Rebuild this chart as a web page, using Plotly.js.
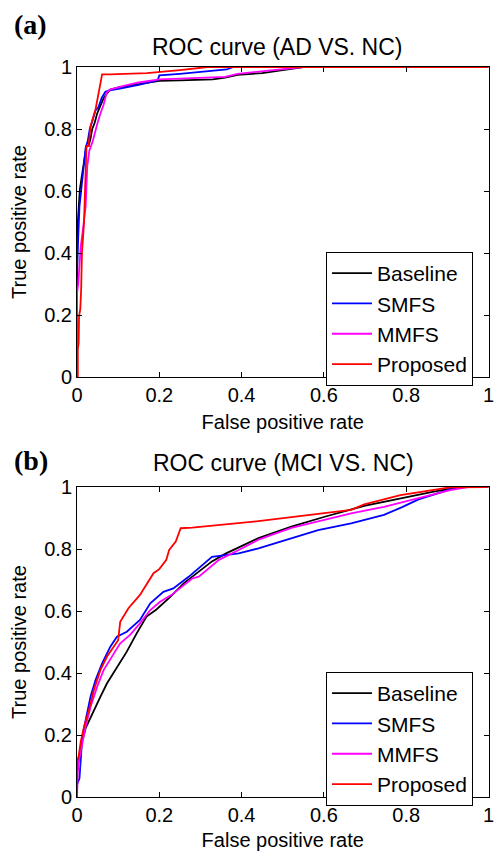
<!DOCTYPE html>
<html>
<head>
<meta charset="utf-8">
<script src="https://cdn.plot.ly/plotly-3.0.1.min.js"></script>
<style>
html,body{margin:0;padding:0;background:#fff;}
#chart{width:495px;height:851px;}
</style>
</head>
<body>
<div id="chart"></div>
<script>
// ---- Panel (a): ROC curve (AD VS. NC) ----
const adBaseX = [0, 0, 0.002, 0.005, 0.007, 0.012, 0.018, 0.023, 0.028, 0.033, 0.037, 0.043, 0.049, 0.057, 0.065, 0.073, 0.081, 0.104, 0.15, 0.2, 0.25, 0.3, 0.33, 0.36, 0.39, 0.45, 0.5, 0.55, 1];
const adBaseY = [0, 0.45, 0.5, 0.56, 0.605, 0.65, 0.7, 0.745, 0.745, 0.77, 0.8, 0.82, 0.85, 0.875, 0.9, 0.915, 0.927, 0.935, 0.945, 0.955, 0.957, 0.958, 0.96, 0.966, 0.975, 0.98, 0.99, 1, 1];

const adSmfsX = [0, 0, 0.003, 0.006, 0.01, 0.015, 0.021, 0.026, 0.031, 0.036, 0.041, 0.045, 0.052, 0.06, 0.069, 0.08, 0.104, 0.116, 0.15, 0.196, 0.2, 0.25, 0.3, 0.364, 0.38, 1];
const adSmfsY = [0, 0.33, 0.45, 0.55, 0.6, 0.66, 0.74, 0.76, 0.8, 0.82, 0.84, 0.86, 0.87, 0.9, 0.92, 0.925, 0.93, 0.933, 0.942, 0.957, 0.973, 0.978, 0.984, 0.992, 1, 1];

const adMmfsX = [0, 0, 0.003, 0.006, 0.009, 0.013, 0.017, 0.021, 0.025, 0.03, 0.038, 0.045, 0.05, 0.057, 0.065, 0.072, 0.08, 0.116, 0.15, 0.2, 0.25, 0.3, 0.36, 0.39, 0.473, 0.55, 1];
const adMmfsY = [0, 0.27, 0.3, 0.36, 0.42, 0.46, 0.5, 0.55, 0.68, 0.73, 0.76, 0.8, 0.82, 0.85, 0.88, 0.917, 0.927, 0.94, 0.95, 0.96, 0.962, 0.965, 0.968, 0.978, 0.99, 1, 1];

const adPropX = [0, 0.002, 0.002, 0.004, 0.005, 0.008, 0.01, 0.012, 0.017, 0.02, 0.023, 0.028, 0.033, 0.045, 0.061, 0.08, 0.116, 0.17, 0.25, 0.317, 1];
const adPropY = [0, 0, 0.09, 0.11, 0.196, 0.22, 0.28, 0.4, 0.497, 0.6, 0.745, 0.745, 0.81, 0.863, 0.976, 0.976, 0.978, 0.98, 0.99, 1, 1];

// ---- Panel (b): ROC curve (MCI VS. NC) ----
const mciBaseX = [0, 0, 0.004, 0.009, 0.021, 0.037, 0.057, 0.073, 0.097, 0.121, 0.145, 0.169, 0.193, 0.226, 0.26, 0.296, 0.328, 0.361, 0.401, 0.441, 0.521, 0.602, 0.698, 0.786, 0.867, 0.931, 1];
const mciBaseY = [0, 0.1, 0.12, 0.162, 0.222, 0.27, 0.324, 0.367, 0.42, 0.469, 0.528, 0.582, 0.605, 0.645, 0.69, 0.728, 0.76, 0.785, 0.81, 0.835, 0.872, 0.904, 0.939, 0.964, 0.985, 1, 1];

const mciSmfsX = [0, 0, 0.006, 0.009, 0.013, 0.021, 0.033, 0.045, 0.061, 0.081, 0.097, 0.121, 0.153, 0.178, 0.21, 0.234, 0.272, 0.328, 0.393, 0.441, 0.521, 0.586, 0.666, 0.746, 0.79, 0.83, 0.89, 0.923, 1];
const mciSmfsY = [0, 0.04, 0.06, 0.13, 0.195, 0.248, 0.324, 0.377, 0.431, 0.485, 0.517, 0.533, 0.571, 0.625, 0.662, 0.673, 0.711, 0.775, 0.786, 0.802, 0.835, 0.861, 0.883, 0.91, 0.935, 0.96, 0.985, 1, 1];

const mciMmfsX = [0, 0.002, 0.005, 0.013, 0.021, 0.033, 0.049, 0.065, 0.085, 0.105, 0.129, 0.153, 0.178, 0.202, 0.23, 0.28, 0.296, 0.345, 0.393, 0.441, 0.521, 0.586, 0.666, 0.746, 0.827, 0.907, 0.95, 1];
const mciMmfsY = [0, 0.08, 0.12, 0.178, 0.227, 0.291, 0.356, 0.41, 0.453, 0.496, 0.523, 0.56, 0.603, 0.63, 0.652, 0.705, 0.711, 0.765, 0.797, 0.83, 0.868, 0.888, 0.915, 0.936, 0.964, 0.99, 1, 1];

const mciPropX = [0, 0, 0.004, 0.009, 0.017, 0.029, 0.041, 0.057, 0.073, 0.093, 0.1, 0.105, 0.125, 0.153, 0.186, 0.2, 0.217, 0.224, 0.24, 0.252, 0.28, 0.441, 0.561, 0.626, 0.666, 0.698, 0.786, 0.907, 1];
const mciPropY = [0, 0.12, 0.13, 0.178, 0.227, 0.28, 0.345, 0.41, 0.453, 0.49, 0.506, 0.565, 0.609, 0.652, 0.722, 0.735, 0.765, 0.797, 0.824, 0.867, 0.869, 0.89, 0.91, 0.92, 0.926, 0.944, 0.974, 0.999, 1];

const seriesNames = ["Baseline", "SMFS", "MMFS", "Proposed"];
const seriesColors = ["#000000", "#0000ff", "#ff00ff", "#ff0000"];
const tickVals = [0, 0.2, 0.4, 0.6, 0.8, 1];
const tickText = ["0", "0.2", "0.4", "0.6", "0.8", "1"];
const panelTitles = ["ROC curve (AD VS. NC)", "ROC curve (MCI VS. NC)"];
const panelLabels = ["(a)", "(b)"];
const xLabel = "False positive rate";
const yLabel = "True positive rate";

const FONT = "Liberation Sans, Arial, Helvetica, sans-serif";
const W = 495, H = 851;
const px2x = p => p / W;
const px2y = p => 1 - p / H;

const adSets = [[adBaseX, adBaseY], [adSmfsX, adSmfsY], [adMmfsX, adMmfsY], [adPropX, adPropY]];
const mciSets = [[mciBaseX, mciBaseY], [mciSmfsX, mciSmfsY], [mciMmfsX, mciMmfsY], [mciPropX, mciPropY]];

const traces = [];
adSets.forEach((s, i) => traces.push({
  x: s[0], y: s[1], type: "scatter", mode: "lines", name: seriesNames[i],
  line: {color: seriesColors[i], width: 1.8}, xaxis: "x", yaxis: "y", legend: "legend"
}));
mciSets.forEach((s, i) => traces.push({
  x: s[0], y: s[1], type: "scatter", mode: "lines", name: seriesNames[i],
  line: {color: seriesColors[i], width: 1.8}, xaxis: "x2", yaxis: "y2", legend: "legend2"
}));

function xAxis(anchor) {
  return {
    domain: [px2x(77), px2x(488.5)], anchor: anchor, range: [0, 1],
    tickmode: "array", tickvals: tickVals, ticktext: tickText,
    ticks: "inside", ticklen: 5, tickwidth: 1, tickcolor: "#000",
    showline: true, linecolor: "#000", linewidth: 1, mirror: "allticks",
    showgrid: false, zeroline: false, automargin: false,
    ticklabeloverflow: "allow",
    tickfont: {family: FONT, size: 20, color: "#000"},
    title: {text: xLabel, font: {family: FONT, size: 20, color: "#000"}, standoff: 9}
  };
}
function yAxis(dom, anchor) {
  return {
    domain: dom, anchor: anchor, range: [0, 1],
    tickmode: "array", tickvals: tickVals, ticktext: tickText,
    ticks: "inside", ticklen: 5, tickwidth: 1, tickcolor: "#000",
    showline: true, linecolor: "#000", linewidth: 1, mirror: "allticks",
    showgrid: false, zeroline: false, automargin: false,
    ticklabeloverflow: "allow",
    tickfont: {family: FONT, size: 20, color: "#000"},
    title: {text: yLabel, font: {family: FONT, size: 20, color: "#000"}, standoff: 12}
  };
}

const legendStyle = (topPx) => ({
  x: px2x(326), y: px2y(topPx), xanchor: "left", yanchor: "top",
  bgcolor: "#fff", bordercolor: "#000", borderwidth: 1,
  font: {family: FONT, size: 21, color: "#000"},
  itemwidth: 40, tracegroupgap: 0
});

const layout = {
  width: W, height: H,
  margin: {l: 0, r: 0, t: 0, b: 0},
  paper_bgcolor: "#fff", plot_bgcolor: "#fff",
  showlegend: true,
  xaxis: xAxis("y"),
  yaxis: yAxis([px2y(377), px2y(67)], "x"),
  xaxis2: xAxis("y2"),
  yaxis2: yAxis([px2y(797), px2y(487)], "x2"),
  legend: legendStyle(252),
  legend2: legendStyle(672),
  annotations: [
    {text: panelTitles[0], xref: "paper", yref: "paper", x: px2x(277), y: px2y(47), xanchor: "center", yanchor: "middle", showarrow: false, font: {family: FONT, size: 23, color: "#000"}},
    {text: panelTitles[1], xref: "paper", yref: "paper", x: px2x(283), y: px2y(463), xanchor: "center", yanchor: "middle", showarrow: false, font: {family: FONT, size: 23, color: "#000"}},
    {text: "<b>" + panelLabels[0] + "</b>", xref: "paper", yref: "paper", x: px2x(30), y: px2y(25), xanchor: "center", yanchor: "middle", showarrow: false, font: {family: "Liberation Serif, Times New Roman, serif", size: 28, color: "#000"}},
    {text: "<b>" + panelLabels[1] + "</b>", xref: "paper", yref: "paper", x: px2x(31), y: px2y(460), xanchor: "center", yanchor: "middle", showarrow: false, font: {family: "Liberation Serif, Times New Roman, serif", size: 28, color: "#000"}}
  ]
};

Plotly.newPlot("chart", traces, layout, {staticPlot: true, displayModeBar: false});
</script>
</body>
</html>
